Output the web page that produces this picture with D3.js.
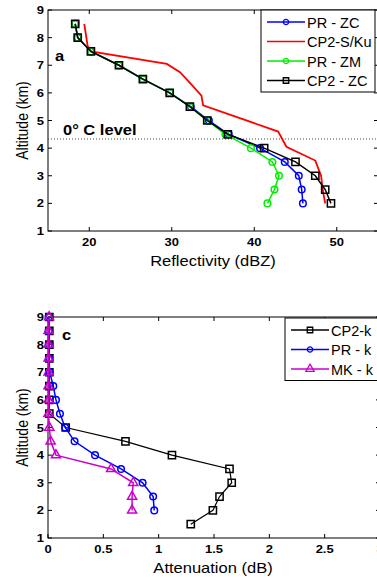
<!DOCTYPE html>
<html>
<head>
<meta charset="utf-8">
<script src="https://cdn.jsdelivr.net/npm/d3@7"></script>
<style>
  body { margin: 0; background: #fff; }
  svg { display: block; font-family: Arial, "Liberation Sans", sans-serif; }
</style>
</head>
<body>
<svg id="chart" width="377" height="578"></svg>
<script>
// ---- panel a : reflectivity profiles ----
const altA = [8.5, 8, 7.5, 7, 6.5, 6, 5.5, 5, 4.5, 4, 3.5, 3, 2.5, 2]
const prZC  = [18.3, 18.6, 20.2, 23.6, 26.5, 29.75, 32.3, 34.5, 36.9, 40.7, 43.7, 45.4, 45.75, 45.9]
const prZM  = [18.3, 18.6, 20.2, 23.6, 26.5, 29.75, 32.2, 34.3, 36.5, 39.6, 42.2, 43.0, 42.45, 41.6]
const cp2ZC = [18.3, 18.6, 20.2, 23.6, 26.5, 29.75, 32.2, 34.3, 36.8, 41.2, 45.0, 47.4, 48.6, 49.3]
const altSKu = [8.5, 7.7, 7.5, 7.05, 6.75, 6.3, 5.9, 5.55, 4.6, 4.05, 3.55, 3.0, 2.5, 2.0]
const cp2SKu = [19.4, 19.8, 20.2, 29.4, 31.0, 32.4, 33.6, 33.8, 42.9, 43.9, 47.4, 48.1, 48.3, 48.6]
const freezingLevel = 4.33
const ticksA = [20, 30, 40, 50]

// ---- panel c : attenuation profiles ----
const altC = [9, 8.5, 8, 7.5, 7, 6.5, 6, 5.5, 5, 4.5, 4, 3.5, 3, 2.5, 2, 1.5]
const cp2K = [0.012, 0.012, 0.012, 0.012, 0.012, 0.012, 0.012, 0.012, 0.16, 0.70, 1.12, 1.64, 1.66, 1.55, 1.49, 1.29]
const prK  = [0.005, 0.005, 0.006, 0.01, 0.015, 0.048, 0.072, 0.108, 0.155, 0.24, 0.425, 0.66, 0.855, 0.95, 0.96]
const mkK  = [0.01, 0.005, 0.005, 0.005, 0.005, 0.005, 0.005, 0.005, 0.012, 0.024, 0.072, 0.57, 0.77, 0.76, 0.76]
const ticksC = [0, 0.5, 1, 1.5, 2, 2.5, 3]
const ticksAlt = [1, 2, 3, 4, 5, 6, 7, 8, 9]

const SX = 1.18   // figure is stretched horizontally

const svg = d3.select("#chart")

function stretchedText(g, x, y, txt, size, weight, anchor, sx = SX){
    return g.append("text")
            .attr("transform", `translate(${x},${y}) scale(${sx},1)`)
            .attr("font-size", size)
            .attr("font-weight", weight)
            .attr("text-anchor", anchor)
            .attr("fill", "#000")
            .text(txt)
}

function panel(opts){
    const x = d3.scaleLinear().domain(opts.xDomain).range(opts.xRange),
          y = d3.scaleLinear().domain([1, 9]).range(opts.yRange)
    const g = svg.append("g")
    const [x0, x1] = opts.xRange, [y1, y0] = opts.yRange

    // box
    g.append("rect")
     .attr("x", x0).attr("y", y0)
     .attr("width", x1 - x0).attr("height", y1 - y0)
     .attr("fill", "none").attr("stroke", "#000").attr("stroke-width", 1)

    // inward ticks on all four sides
    opts.xTicks.forEach(t => {
        g.append("line").attr("x1", x(t)).attr("x2", x(t)).attr("y1", y1).attr("y2", y1 - 4).attr("stroke", "#000")
        g.append("line").attr("x1", x(t)).attr("x2", x(t)).attr("y1", y0).attr("y2", y0 + 4).attr("stroke", "#000")
        stretchedText(g, x(t), y1 + 15, opts.fmt(t), 11, "bold", "middle")
    })
    ticksAlt.forEach(t => {
        g.append("line").attr("x1", x0).attr("x2", x0 + 4).attr("y1", y(t)).attr("y2", y(t)).attr("stroke", "#000")
        g.append("line").attr("x1", x1).attr("x2", x1 - 4).attr("y1", y(t)).attr("y2", y(t)).attr("stroke", "#000")
        stretchedText(g, x0 - 4, y(t) + 4, t, 11, "bold", "end")
    })

    // axis titles
    stretchedText(g, (x0 + 378) / 2, y1 + 35, opts.xLabel, 14, "normal", "middle")
    g.append("text")
     .attr("transform", `translate(28,${(y0 + y1) / 2}) rotate(-90) scale(1,${SX})`)
     .attr("font-size", 14)
     .attr("text-anchor", "middle")
     .text("Altitude (km)")

    return {g, x, y}
}

function drawSeries(p, xs, alts, color, marker, lw){
    const pts = xs.map((v, i) => [p.x(v), p.y(alts[i])])
    p.g.append("path")
       .attr("d", d3.line()(pts))
       .attr("fill", "none")
       .attr("stroke", color)
       .attr("stroke-width", lw)
    if (marker) {
        p.g.selectAll(null)
           .data(pts)
           .join("path")
           .attr("transform", d => `translate(${d[0]},${d[1]})`)
           .attr("d", marker)
           .attr("fill", "none")
           .attr("stroke", color)
           .attr("stroke-width", 1.5)
    }
}

const circle = d3.symbol(d3.symbolCircle, 34)()
const square = d3.symbol(d3.symbolSquare, 52)()
const triangle = d3.symbol(d3.symbolTriangle, 36)()

function legend(g, x, y, w, items){
    const rowH = 19.5
    g.append("rect")
     .attr("x", x).attr("y", y)
     .attr("width", w).attr("height", rowH * items.length + 4)
     .attr("fill", "#fff").attr("stroke", "#000").attr("stroke-width", 1)
    items.forEach((it, i) => {
        const cy = y + 12 + i * rowH
        g.append("line")
         .attr("x1", x + 6).attr("x2", x + 44)
         .attr("y1", cy).attr("y2", cy)
         .attr("stroke", it.color).attr("stroke-width", 1.5)
        if (it.marker) {
            g.append("path")
             .attr("transform", `translate(${x + 25},${cy})`)
             .attr("d", it.marker)
             .attr("fill", "none").attr("stroke", it.color).attr("stroke-width", 1.3)
        }
        stretchedText(g, x + 46, cy + 5.5, it.name, 14.5, "normal", "start", 1.0)
    })
}

// panel a
const pa = panel({xDomain: [15, 55], xRange: [48, 378], yRange: [231, 10],
                  xTicks: ticksA, fmt: d => d, xLabel: "Reflectivity (dBZ)"})

pa.g.append("line")
    .attr("x1", 48).attr("x2", 378)
    .attr("y1", pa.y(freezingLevel)).attr("y2", pa.y(freezingLevel))
    .attr("stroke", "#444").attr("stroke-width", 1).attr("stroke-dasharray", "1,2")
stretchedText(pa.g, 63, pa.y(freezingLevel) - 4, "0° C level", 14, "bold", "start")
stretchedText(pa.g, 55, 61, "a", 14, "bold", "start")

drawSeries(pa, prZC, altA, "#0000ff", circle, 1.5)
drawSeries(pa, cp2SKu, altSKu, "#ff0000", null, 1.8)
drawSeries(pa, prZM, altA, "#00ee00", circle, 1.5)
drawSeries(pa, cp2ZC, altA, "#000", square, 1.5)

legend(pa.g, 261, 10, 114, [
    {name: "PR - ZC", color: "#0000ff", marker: d3.symbol(d3.symbolCircle, 22)()},
    {name: "CP2-S/Ku", color: "#ff0000", marker: null},
    {name: "PR - ZM", color: "#00ee00", marker: d3.symbol(d3.symbolCircle, 22)()},
    {name: "CP2 - ZC", color: "#000", marker: d3.symbol(d3.symbolSquare, 30)()}
])

// panel c
const pc = panel({xDomain: [0, 3], xRange: [48, 380], yRange: [538, 317],
                  xTicks: ticksC, fmt: d => d, xLabel: "Attenuation (dB)"})

stretchedText(pc.g, 62, 340, "c", 14, "bold", "start")

drawSeries(pc, cp2K, altC, "#000", square, 1.2)
drawSeries(pc, prK, altC, "#0000ff", circle, 1.5)
drawSeries(pc, mkK, altC, "#cc00cc", triangle, 1.5)

legend(pc.g, 285, 318, 95, [
    {name: "CP2-k", color: "#000", marker: d3.symbol(d3.symbolSquare, 30)()},
    {name: "PR - k", color: "#0000ff", marker: d3.symbol(d3.symbolCircle, 22)()},
    {name: "MK - k", color: "#cc00cc", marker: d3.symbol(d3.symbolTriangle, 30)()}
])
</script>
</body>
</html>
